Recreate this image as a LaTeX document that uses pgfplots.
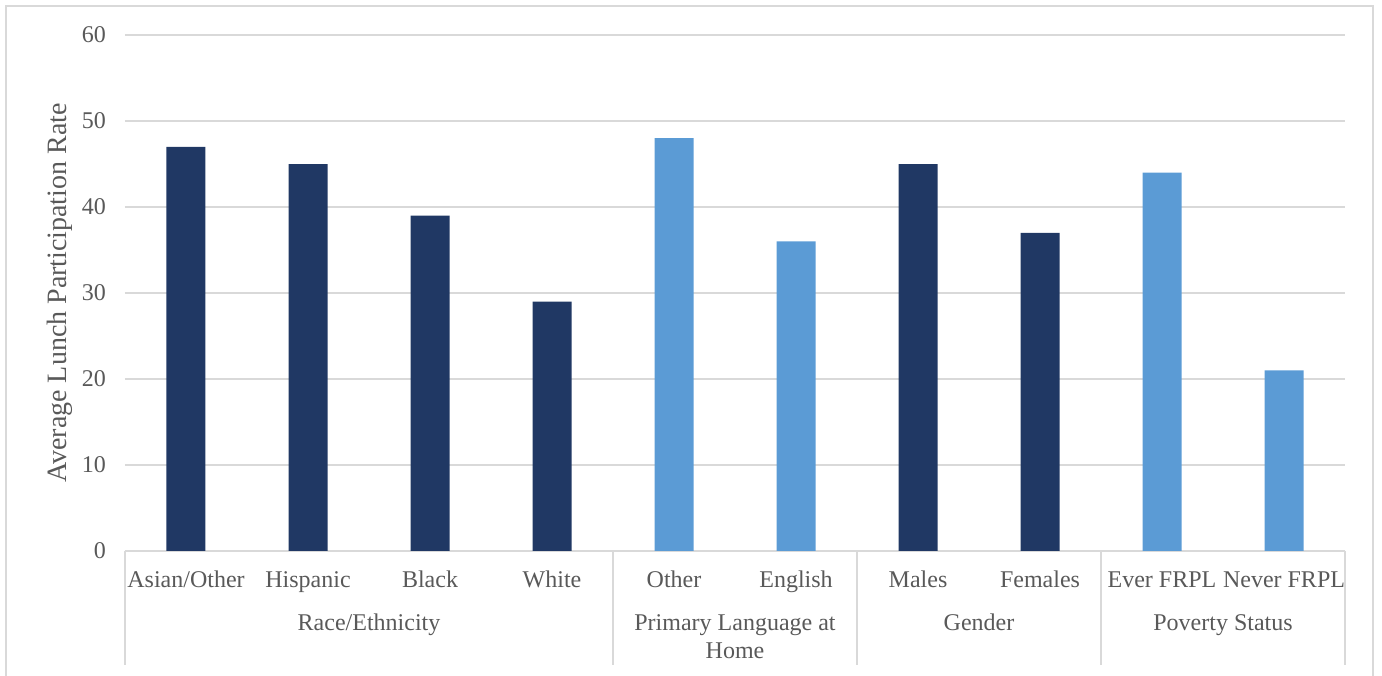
\documentclass[border=0pt]{standalone}
\usepackage{fontspec}
\setmainfont{Liberation Serif}
\usepackage{pgfplots}
\pgfplotsset{compat=1.18}
\definecolor{darkbar}{HTML}{203864}
\definecolor{lightbar}{HTML}{5B9BD5}
\definecolor{gridgray}{HTML}{D9D9D9}
\definecolor{textgray}{HTML}{595959}
\begin{document}
\begin{tikzpicture}
\useasboundingbox (0,0) rectangle (691pt,337.5pt);
\draw[gridgray, line width=0.9pt] (3pt,-2pt) -- (3pt,334.5pt) -- (686.5pt,334.5pt) -- (686.5pt,-2pt);
\begin{axis}[
  at={(62.5pt,62pt)}, anchor=south west,
  scale only axis, width=610pt, height=258pt,
  xmin=-0.5, xmax=9.5, ymin=0, ymax=60,
  ytick={0,10,...,60},
  xtick={0,...,9},
  xticklabels={Asian/Other,Hispanic,Black,White,Other,English,Males,Females,Ever FRPL,Never FRPL},
  major tick length=0pt,
  ymajorgrids, major grid style={gridgray, line width=0.75pt},
  axis line style={draw=none},
  ylabel={Average Lunch Participation Rate},
  every axis y label/.append style={at={(axis description cs:-0.0533,0.5)}, anchor=center, font=\fontsize{14}{16}\selectfont, text=textgray},
  ticklabel style={font=\fontsize{12}{14}\selectfont, text=textgray},
  xticklabel style={anchor=base, yshift=-18.5pt},
  yticklabel style={xshift=-6pt},
  /pgf/number format/assume math mode=true,
  clip=false,
]
\addplot[ybar, bar width=19.5pt, bar shift=0pt, fill=darkbar, draw=none] coordinates {(0,47) (1,45) (2,39) (3,29) (6,45) (7,37)};
\addplot[ybar, bar width=19.5pt, bar shift=0pt, fill=lightbar, draw=none] coordinates {(4,48) (5,36) (8,44) (9,21)};
\foreach \xx in {-0.5,3.5,5.5,7.5,9.5} {
  \edef\tmp{\noexpand\draw[gridgray, line width=0.75pt] (axis cs:\xx,0) -- ([yshift=-57pt]axis cs:\xx,0);}
  \tmp
}
\node[anchor=base, font=\fontsize{12}{14}\selectfont, text=textgray] at ([yshift=-40pt]axis cs:1.5,0) {Race/Ethnicity};
\node[anchor=base, font=\fontsize{12}{14}\selectfont, text=textgray] at ([yshift=-40pt]axis cs:6.5,0) {Gender};
\node[anchor=base, font=\fontsize{12}{14}\selectfont, text=textgray] at ([yshift=-40pt]axis cs:8.5,0) {Poverty Status};
\node[anchor=base, font=\fontsize{12}{14}\selectfont, text=textgray] at ([yshift=-40pt]axis cs:4.5,0) {Primary Language at};
\node[anchor=base, font=\fontsize{12}{14}\selectfont, text=textgray] at ([yshift=-53.5pt]axis cs:4.5,0) {Home};
\end{axis}
\end{tikzpicture}
\end{document}
